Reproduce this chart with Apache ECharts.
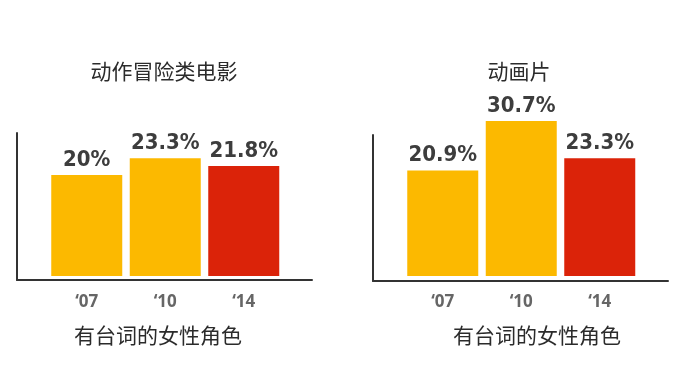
<!DOCTYPE html>
<html>
<head>
<meta charset="utf-8">
<script src="https://cdn.jsdelivr.net/npm/echarts@6/dist/echarts.min.js"></script>
<style>
html,body{margin:0;padding:0;background:#fff;}
#c{width:700px;height:371px;}
</style>
</head>
<body>
<div id="c"></div>
<script>
var categories = ["\u201807", "\u201810", "\u201814"];
var actionValues = [20, 23.3, 21.8];
var animationValues = [20.9, 30.7, 23.3];
var chartTitles = ["动作冒险类电影", "动画片"];
var axisCaption = "有台词的女性角色";

var YELLOW = '#FCB900', RED = '#DB2309';
function colored(vals){
  return vals.map(function(v,i){
    return {value:v, itemStyle:{color: i === vals.length-1 ? RED : YELLOW}};
  });
}
var chart = echarts.init(document.getElementById('c'), null, {renderer:'canvas'});
var cjk = {fontFamily:'"Noto Sans CJK SC", sans-serif', fontSize:21, fontWeight:'normal', color:'#2b2b2b'};
var valueLabel = {
  show:true, position:'top', distance:4,
  fontFamily:'"DejaVu Sans Condensed", sans-serif',
  fontWeight:'bold', fontSize:22, color:'#3d3d3d',
  formatter: function(p){ return p.value + '%'; }
};
var xCat = function(gi){
  return {type:'category', gridIndex:gi, data:categories,
    axisLine:{show:false}, axisTick:{show:false},
    axisLabel:{margin:18, fontFamily:'"Open Sans", sans-serif', fontWeight:'bold', fontSize:17, color:'#666'}};
};
var yVal = function(gi){
  return {type:'value', gridIndex:gi, min:0, max:40, show:false, splitLine:{show:false}};
};
var frameAxis = function(gi){
  return {type:'value', gridIndex:gi, min:0, max:1,
    axisLine:{show:true, onZero:false, lineStyle:{color:'#333', width:2}},
    axisTick:{show:false}, axisLabel:{show:false}, splitLine:{show:false}};
};
chart.setOption({
  animation:false,
  title:[
    {text:chartTitles[0], left:164, top:61, padding:0, textAlign:'center', textStyle:cjk},
    {text:chartTitles[1], left:519, top:61, padding:0, textAlign:'center', textStyle:cjk},
    {text:axisCaption, left:158, top:325, padding:0, textAlign:'center', textStyle:cjk},
    {text:axisCaption, left:537, top:325, padding:0, textAlign:'center', textStyle:cjk}
  ],
  grid:[
    {left:47.5, width:235.5, top:74, height:202},
    {left:403.5, width:235.5, top:74, height:202},
    {left:17, width:295, top:133, height:147},
    {left:373, width:295, top:135, height:146}
  ],
  xAxis:[xCat(0), xCat(1), frameAxis(2), frameAxis(3)],
  yAxis:[yVal(0), yVal(1), frameAxis(2), frameAxis(3)],
  series:[
    {type:'bar', xAxisIndex:0, yAxisIndex:0, data:colored(actionValues), barWidth:71, label:valueLabel},
    {type:'bar', xAxisIndex:1, yAxisIndex:1, data:colored(animationValues), barWidth:71, label:valueLabel}
  ]
});
</script>
</body>
</html>
